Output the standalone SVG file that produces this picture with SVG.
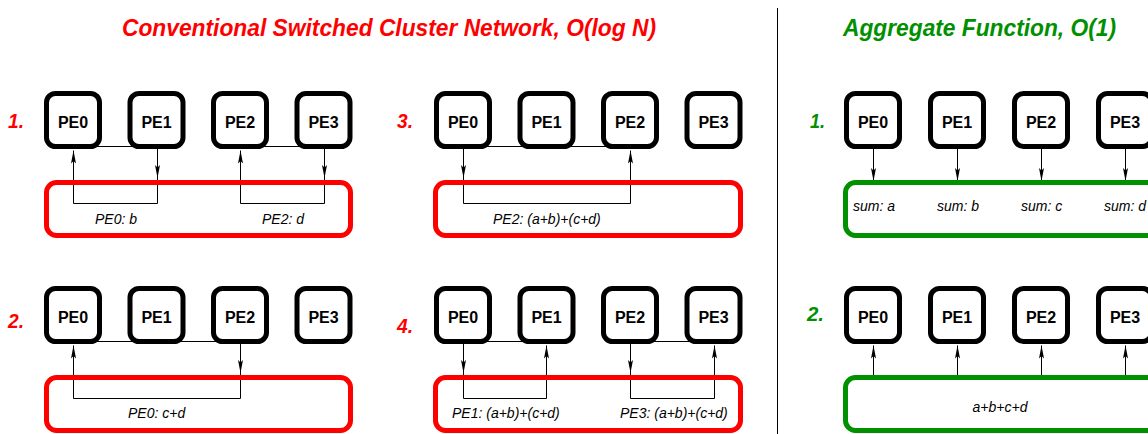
<svg xmlns="http://www.w3.org/2000/svg" width="1148" height="434" viewBox="0 0 1148 434">
<style>
.pe rect{fill:#fff;stroke:#000;stroke-width:5}
.pe text{font-family:"Liberation Sans",Arial,sans-serif;font-weight:bold;font-size:16px;text-anchor:middle;fill:#000}
.bus{fill:none;stroke-width:5}
.red{stroke:#ff0000}
.grn{stroke:#009000}
.lbl{font-family:"Liberation Sans",Arial,sans-serif;font-style:italic;font-size:14px;fill:#000}
.step{font-family:"Liberation Sans",Arial,sans-serif;font-style:italic;font-weight:bold;font-size:21px}
.title{font-family:"Liberation Sans",Arial,sans-serif;font-style:italic;font-weight:bold;font-size:24.5px}
#connectors path{fill:none;stroke:#000;stroke-width:1}
</style>
<defs>
<marker id="ah" markerUnits="userSpaceOnUse" markerWidth="14" markerHeight="8" viewBox="0 0 14 8" refX="13" refY="4" orient="auto">
<path d="M0,1.5 L13,4 L0,6.5 L2.5,4 z" fill="#000"/>
</marker>
</defs>

<g id="titles">
<text class="title" x="122" y="35.5" fill="#ff0000" textLength="534" lengthAdjust="spacingAndGlyphs">Conventional Switched Cluster Network, O(log N)</text>
<text class="title" x="843" y="35.5" fill="#009000" textLength="273" lengthAdjust="spacingAndGlyphs">Aggregate Function, O(1)</text>
<line x1="777.5" y1="8" x2="777.5" y2="434" stroke="#000" stroke-width="1"/>
</g>

<g id="steps">
<text class="step" x="8" y="127.5" fill="#ff0000" textLength="16" lengthAdjust="spacingAndGlyphs">1.</text>
<text class="step" x="8" y="328" fill="#ff0000" textLength="16" lengthAdjust="spacingAndGlyphs">2.</text>
<text class="step" x="397" y="127.5" fill="#ff0000" textLength="16" lengthAdjust="spacingAndGlyphs">3.</text>
<text class="step" x="397" y="333" fill="#ff0000" textLength="16" lengthAdjust="spacingAndGlyphs">4.</text>
<text class="step" x="810" y="127.5" fill="#009000" textLength="15" lengthAdjust="spacingAndGlyphs">1.</text>
<text class="step" x="807" y="321" fill="#009000" textLength="17" lengthAdjust="spacingAndGlyphs">2.</text>
</g>

<g id="connectors">
<!-- panel 1 -->
<path d="M73,146.5 H157"/>
<path d="M240,146.5 H324"/>
<path d="M157.5,149 V178" marker-end="url(#ah)"/>
<path d="M157.5,178 V203.5 H73.5 V178"/>
<path d="M73.5,178 V150.5" marker-end="url(#ah)"/>
<path d="M324.5,149 V178" marker-end="url(#ah)"/>
<path d="M324.5,178 V203.5 H240.5 V178"/>
<path d="M240.5,178 V150.5" marker-end="url(#ah)"/>
<!-- panel 2 -->
<path d="M73,341.5 H240"/>
<path d="M240.5,344 V373" marker-end="url(#ah)"/>
<path d="M240.5,373 V398.5 H73.5 V373"/>
<path d="M73.5,373 V345.5" marker-end="url(#ah)"/>
<!-- panel 3 -->
<path d="M463,146.5 H630"/>
<path d="M463.5,149 V178" marker-end="url(#ah)"/>
<path d="M463.5,178 V203.5 H630.5 V178"/>
<path d="M630.5,178 V150.5" marker-end="url(#ah)"/>
<!-- panel 4 -->
<path d="M463,341.5 H546"/>
<path d="M630,341.5 H714"/>
<path d="M463.5,344 V373" marker-end="url(#ah)"/>
<path d="M463.5,373 V398.5 H546.5 V373"/>
<path d="M546.5,373 V345.5" marker-end="url(#ah)"/>
<path d="M630.5,344 V373" marker-end="url(#ah)"/>
<path d="M630.5,373 V398.5 H714.5 V373"/>
<path d="M714.5,373 V345.5" marker-end="url(#ah)"/>
<!-- aggregate 1 -->
<path d="M873.5,149 V181" marker-end="url(#ah)"/>
<path d="M957.5,149 V181" marker-end="url(#ah)"/>
<path d="M1041.5,149 V181" marker-end="url(#ah)"/>
<path d="M1125.5,149 V181" marker-end="url(#ah)"/>
<!-- aggregate 2 -->
<path d="M873.5,376 V345.5" marker-end="url(#ah)"/>
<path d="M957.5,376 V345.5" marker-end="url(#ah)"/>
<path d="M1041.5,376 V345.5" marker-end="url(#ah)"/>
<path d="M1125.5,376 V345.5" marker-end="url(#ah)"/>
</g>

<!-- Panel 1 -->
<g id="p1-pe0" class="pe"><rect x="46.5" y="93.5" width="53" height="53" rx="9"/><text x="73" y="127.5">PE0</text></g>
<g id="p1-pe1" class="pe"><rect x="130" y="93.5" width="53" height="53" rx="9"/><text x="156.5" y="127.5">PE1</text></g>
<g id="p1-pe2" class="pe"><rect x="213.5" y="93.5" width="53" height="53" rx="9"/><text x="240" y="127.5">PE2</text></g>
<g id="p1-pe3" class="pe"><rect x="297" y="93.5" width="53" height="53" rx="9"/><text x="323.5" y="127.5">PE3</text></g>
<g id="p1-net"><rect class="bus red" x="46.5" y="182.5" width="304" height="53" rx="10"/>
<text class="lbl" x="95" y="223.5">PE0: b</text><text class="lbl" x="262" y="223.5">PE2: d</text></g>

<!-- Panel 2 -->
<g id="p2-pe0" class="pe"><rect x="46.5" y="288.5" width="53" height="53" rx="9"/><text x="73" y="322.5">PE0</text></g>
<g id="p2-pe1" class="pe"><rect x="130" y="288.5" width="53" height="53" rx="9"/><text x="156.5" y="322.5">PE1</text></g>
<g id="p2-pe2" class="pe"><rect x="213.5" y="288.5" width="53" height="53" rx="9"/><text x="240" y="322.5">PE2</text></g>
<g id="p2-pe3" class="pe"><rect x="297" y="288.5" width="53" height="53" rx="9"/><text x="323.5" y="322.5">PE3</text></g>
<g id="p2-net"><rect class="bus red" x="46.5" y="377.5" width="304" height="53" rx="10"/>
<text class="lbl" x="128" y="418">PE0: c+d</text></g>

<!-- Panel 3 -->
<g id="p3-pe0" class="pe"><rect x="436.5" y="93.5" width="53" height="53" rx="9"/><text x="463" y="127.5">PE0</text></g>
<g id="p3-pe1" class="pe"><rect x="520" y="93.5" width="53" height="53" rx="9"/><text x="546.5" y="127.5">PE1</text></g>
<g id="p3-pe2" class="pe"><rect x="603.5" y="93.5" width="53" height="53" rx="9"/><text x="630" y="127.5">PE2</text></g>
<g id="p3-pe3" class="pe"><rect x="687" y="93.5" width="53" height="53" rx="9"/><text x="713.5" y="127.5">PE3</text></g>
<g id="p3-net"><rect class="bus red" x="435.5" y="182.5" width="305" height="53" rx="10"/>
<text class="lbl" x="493" y="223.5">PE2: (a+b)+(c+d)</text></g>

<!-- Panel 4 -->
<g id="p4-pe0" class="pe"><rect x="436.5" y="288.5" width="53" height="53" rx="9"/><text x="463" y="322.5">PE0</text></g>
<g id="p4-pe1" class="pe"><rect x="520" y="288.5" width="53" height="53" rx="9"/><text x="546.5" y="322.5">PE1</text></g>
<g id="p4-pe2" class="pe"><rect x="603.5" y="288.5" width="53" height="53" rx="9"/><text x="630" y="322.5">PE2</text></g>
<g id="p4-pe3" class="pe"><rect x="687" y="288.5" width="53" height="53" rx="9"/><text x="713.5" y="322.5">PE3</text></g>
<g id="p4-net"><rect class="bus red" x="435.5" y="377.5" width="305" height="53" rx="10"/>
<text class="lbl" x="452" y="418">PE1: (a+b)+(c+d)</text><text class="lbl" x="620" y="418">PE3: (a+b)+(c+d)</text></g>

<!-- Aggregate 1 -->
<g id="a1-pe0" class="pe"><rect x="846.5" y="93.5" width="53" height="53" rx="9"/><text x="873" y="127.5">PE0</text></g>
<g id="a1-pe1" class="pe"><rect x="930.5" y="93.5" width="53" height="53" rx="9"/><text x="957" y="127.5">PE1</text></g>
<g id="a1-pe2" class="pe"><rect x="1014.5" y="93.5" width="53" height="53" rx="9"/><text x="1041" y="127.5">PE2</text></g>
<g id="a1-pe3" class="pe"><rect x="1098.5" y="93.5" width="53" height="53" rx="9"/><text x="1125" y="127.5">PE3</text></g>
<g id="a1-net"><rect class="bus grn" x="845.5" y="182.5" width="320" height="53" rx="10"/>
<text class="lbl" x="853" y="210.5">sum: a</text><text class="lbl" x="937" y="210.5">sum: b</text>
<text class="lbl" x="1021" y="210.5">sum: c</text><text class="lbl" x="1104" y="210.5">sum: d</text></g>

<!-- Aggregate 2 -->
<g id="a2-pe0" class="pe"><rect x="846.5" y="288.5" width="53" height="53" rx="9"/><text x="873" y="322.5">PE0</text></g>
<g id="a2-pe1" class="pe"><rect x="930.5" y="288.5" width="53" height="53" rx="9"/><text x="957" y="322.5">PE1</text></g>
<g id="a2-pe2" class="pe"><rect x="1014.5" y="288.5" width="53" height="53" rx="9"/><text x="1041" y="322.5">PE2</text></g>
<g id="a2-pe3" class="pe"><rect x="1098.5" y="288.5" width="53" height="53" rx="9"/><text x="1125" y="322.5">PE3</text></g>
<g id="a2-net"><rect class="bus grn" x="845.5" y="377.5" width="320" height="53" rx="10"/>
<text class="lbl" x="1000" y="411.5" text-anchor="middle">a+b+c+d</text></g>
</svg>
